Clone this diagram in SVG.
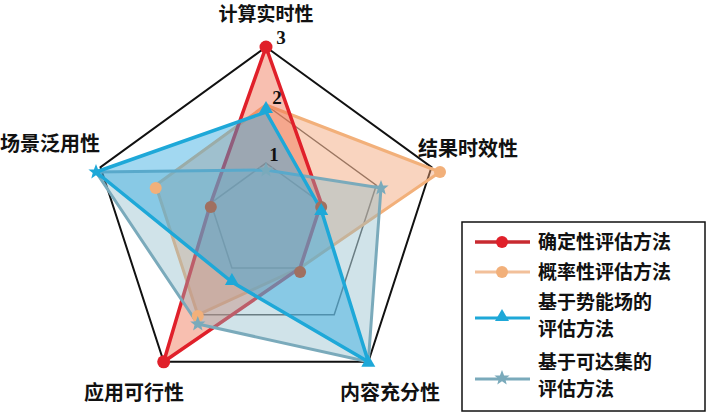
<svg xmlns="http://www.w3.org/2000/svg" width="706" height="412" viewBox="0 0 706 412">
<style>
.lb{font-family:"Noto Sans CJK SC","Liberation Sans",sans-serif;font-weight:bold;font-size:20px;fill:#111}
.lg{font-family:"Noto Sans CJK SC","Liberation Sans",sans-serif;font-weight:bold;font-size:19px;fill:#111}
.num{font-family:"Liberation Serif",serif;font-weight:bold;font-size:19px;fill:#111}
.grid{fill:none;stroke:#555;stroke-width:1.5}
.red{stroke:#e0202a;fill:#f07050;fill-opacity:.45;stroke-width:3.5;stroke-linejoin:round}
.org{stroke:#f2b07a;fill:#f2a070;fill-opacity:.45;stroke-width:3;stroke-linejoin:round}
.blu{stroke:#1ea8d8;fill:#30a8e0;fill-opacity:.45;stroke-width:3.5;stroke-linejoin:round}
.tea{stroke:#7aaabb;fill:#8ab8c8;fill-opacity:.4;stroke-width:3;stroke-linejoin:round}
</style>
<defs>
<polygon id="star" points="0,-8 2.1,-2.6 7.6,-2.5 3.3,0.9 4.7,6.5 0,3.3 -4.7,6.5 -3.3,0.9 -7.6,-2.5 -2.1,-2.6"/>
<polygon id="tri" points="0,-7 7,5 -7,5"/>
</defs>
<rect width="706" height="412" fill="#fff"/>
<g id="grid">
<polygon class="grid" points="266,163 321.2,203.1 300.1,267.9 231.9,267.9 210.8,203.1"/>
<polygon class="grid" points="266,105 376.3,185.2 334.2,314.8 197.8,314.8 155.7,185.2"/>
<polygon fill="none" stroke="#111" stroke-width="2" points="266,47 431.5,167.2 368.3,361.8 163.7,361.8 100.5,167.2"/>
</g>
<g id="connectors">
<polygon class="org" points="266,105 440,172 300.1,267.9 197.8,314.8 155.7,185.2"/>
<polygon class="red" points="266,47 321.2,203.1 300.1,267.9 163.7,361.8 210.8,203.1"/>
<polygon class="tea" points="266,170 381,188 368.3,361.8 197.8,324 96,172"/>
<polygon class="blu" points="266,112 321.2,210 368.3,361.8 231.9,282 96,172"/>
</g>
<g id="markers">
<g fill="#f2b07a"><circle cx="440" cy="172" r="6"/><circle cx="155.7" cy="188" r="6"/><circle cx="197.8" cy="316" r="6"/></g>
<g fill="#a07060"><circle cx="210.8" cy="207" r="6"/><circle cx="300.1" cy="272" r="6"/><circle cx="321.2" cy="207" r="6"/></g>
<g fill="#e0202a"><circle cx="266" cy="47" r="6.5"/><circle cx="163.7" cy="361.8" r="6.5"/></g>
<g fill="#7aaabb"><use href="#star" x="381" y="188"/><use href="#star" x="197.8" y="324"/><use href="#star" x="266" y="170"/></g>
<g fill="#1ea8d8"><use href="#tri" x="266" y="108"/><use href="#tri" x="321.2" y="210"/><use href="#tri" x="231.9" y="280"/><use href="#star" x="96" y="172"/><use href="#tri" x="368.3" y="361.8"/></g>
</g>
<g id="labels">
<text class="lb" x="266" y="21" text-anchor="middle" style="font-size:19px">计算实时性</text>
<text class="num" x="281" y="44" text-anchor="middle">3</text>
<text class="num" x="277" y="104" text-anchor="middle">2</text>
<text class="num" x="274" y="161" text-anchor="middle">1</text>
<text class="lb" x="418" y="156">结果时效性</text>
<text class="lb" x="0" y="151">场景泛用性</text>
<text class="lb" x="84" y="400">应用可行性</text>
<text class="lb" x="340" y="400">内容充分性</text>
</g>
<g id="legend">
<rect x="462" y="222" width="243" height="189" fill="#fff" stroke="#111" stroke-width="1.5"/>
<line x1="475" y1="242" x2="530" y2="242" stroke="#c82a30" stroke-width="3.5"/><circle cx="502" cy="242" r="6" fill="#e0202a"/>
<text class="lg" x="538" y="249">确定性评估方法</text>
<line x1="475" y1="272" x2="530" y2="272" stroke="#f2c09a" stroke-width="3"/><circle cx="502" cy="272" r="6" fill="#f2b07a"/>
<text class="lg" x="538" y="279">概率性评估方法</text>
<line x1="475" y1="318" x2="530" y2="318" stroke="#1ea8d8" stroke-width="3"/><use href="#tri" x="502" y="316" fill="#1ea8d8"/>
<text class="lg" x="538" y="309">基于势能场的</text>
<text class="lg" x="538" y="336">评估方法</text>
<line x1="475" y1="379" x2="530" y2="379" stroke="#7aaabb" stroke-width="3"/><use href="#star" x="502" y="378" fill="#7aaabb"/>
<text class="lg" x="538" y="369">基于可达集的</text>
<text class="lg" x="538" y="396">评估方法</text>
</g>
</svg>
